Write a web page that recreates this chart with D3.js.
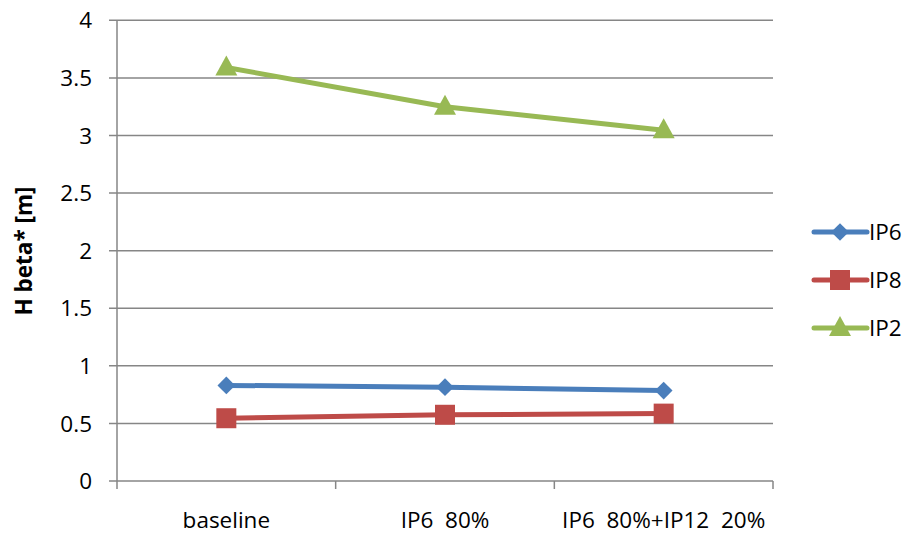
<!DOCTYPE html>
<html>
<head>
<meta charset="utf-8">
<script src="https://cdn.jsdelivr.net/npm/d3@7"></script>
<style>
  body { margin: 0; background: #fff; }
  svg text { font-family: "Open Sans", Lato, sans-serif; fill: #000; }
</style>
</head>
<body>
<svg id="chart" width="907" height="534"></svg>
<script>
// categories and series
const CATEGORIES = ["baseline", "IP6  80%", "IP6  80%+IP12  20%"];
const IP6 = [0.83, 0.815, 0.785];
const IP8 = [0.545, 0.575, 0.585];
const IP2 = [3.59, 3.25, 3.045];
const Y_TICKS = [0, 0.5, 1, 1.5, 2, 2.5, 3, 3.5, 4];

const SERIES = [
  {name: "IP6", values: IP6, color: "#4a7ebb", marker: "diamond"},
  {name: "IP8", values: IP8, color: "#be4b48", marker: "square"},
  {name: "IP2", values: IP2, color: "#98b954", marker: "triangle"}
];

const GRID = "#868686";
const FS = 22.5;
const svg = d3.select("#chart");
const L = 117, R = 773, T = 20.3, B = 481;

const x = d3.scaleBand(CATEGORIES, [L, R]);
const y = d3.scaleLinear([0, 4], [B, T]);

// gridlines (extend left of the axis like tick marks)
svg.append("g").selectAll("line").data(Y_TICKS).join("line")
  .attr("x1", L - 8).attr("x2", R)
  .attr("y1", (d) => y(d)).attr("y2", (d) => y(d))
  .attr("stroke", GRID).attr("stroke-width", 1.5);

// y axis line
svg.append("line").attr("x1", L).attr("x2", L).attr("y1", T).attr("y2", B + 8)
  .attr("stroke", GRID).attr("stroke-width", 1.5);

// x category ticks
const bounds = CATEGORIES.map((c) => x(c)).concat([R]);
svg.append("g").selectAll("line").data(bounds.slice(1)).join("line")
  .attr("x1", (d) => d).attr("x2", (d) => d).attr("y1", B).attr("y2", B + 8)
  .attr("stroke", GRID).attr("stroke-width", 1.5);

// y tick labels
svg.append("g").selectAll("text").data(Y_TICKS).join("text")
  .attr("x", 92).attr("y", (d) => y(d)).attr("dy", "0.36em")
  .attr("text-anchor", "end").attr("font-size", FS)
  .text((d) => d3.format("~g")(d));

// x labels
svg.append("g").selectAll("text").data(CATEGORIES).join("text")
  .attr("x", (c) => x(c) + x.bandwidth() / 2).attr("y", 528)
  .attr("text-anchor", "middle").attr("font-size", FS)
  .attr("xml:space", "preserve").style("white-space", "pre")
  .text((c) => c);

// y axis title
svg.append("text").attr("transform", `translate(32,251) rotate(-90)`)
  .attr("text-anchor", "middle").attr("font-size", FS).attr("font-weight", "bold")
  .text("H beta* [m]");

function marker(g, type, color) {
  if (type === "diamond") {
    g.append("path").attr("d", d3.symbol(d3.symbolDiamond2, 200)()).attr("fill", color);
  } else if (type === "square") {
    g.append("rect").attr("x", -10).attr("y", -10).attr("width", 20).attr("height", 20).attr("fill", color);
  } else {
    g.append("path").attr("d", "M0,-12L11,8L-11,8Z").attr("fill", color);
  }
}

const line = d3.line().x((d, i) => x(CATEGORIES[i]) + x.bandwidth() / 2).y((d) => y(d));

SERIES.forEach((s) => {
  svg.append("path").datum(s.values).attr("d", line)
    .attr("fill", "none").attr("stroke", s.color).attr("stroke-width", 5)
    .attr("stroke-linejoin", "round");
  s.values.forEach((v, i) => {
    const g = svg.append("g")
      .attr("transform", `translate(${x(CATEGORIES[i]) + x.bandwidth() / 2},${y(v)})`);
    marker(g, s.marker, s.color);
  });
});

// legend
const legend = svg.append("g").selectAll("g").data(SERIES).join("g")
  .attr("transform", (d, i) => `translate(0,${232 + i * 48})`);
legend.append("line").attr("x1", 814).attr("x2", 867).attr("y1", 0).attr("y2", 0)
  .attr("stroke", (d) => d.color).attr("stroke-width", 5).attr("stroke-linecap", "round");
legend.each(function (d) {
  const g = d3.select(this).append("g").attr("transform", "translate(840,0)");
  marker(g, d.marker, d.color);
});
legend.append("text").attr("x", 869).attr("y", 0).attr("dy", "0.36em")
  .attr("font-size", FS).text((d) => d.name);
</script>
</body>
</html>
